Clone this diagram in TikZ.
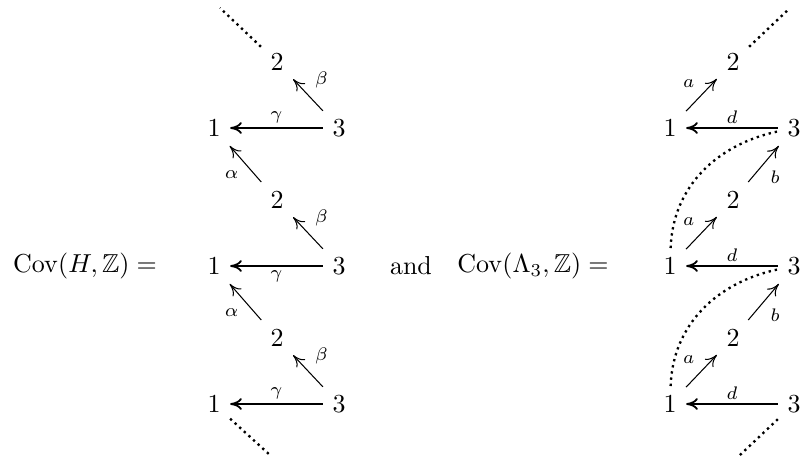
\documentclass[tikz,border=0pt]{standalone}
\usepackage{amsmath, amssymb}
\usetikzlibrary{arrows.meta}

\begin{document}
\begin{tikzpicture}[
  x=0.385pt, y=0.385pt,
  vtx/.style={inner sep=3.5pt},
  lbl/.style={font=\scriptsize, inner sep=1.5pt},
  dlbl/.style={font=\scriptsize, inner sep=2.5pt},
  harrow/.style={-{Computer Modern Rightarrow[length=4.5pt,width=4.5pt]}, line width=0.7pt},
  darrow/.style={-{Computer Modern Rightarrow[length=4.5pt,width=4.5pt]}, line width=0.4pt},
  dotline/.style={line width=0.9pt, dash pattern=on 0.9pt off 1.5pt}
]
  \useasboundingbox (0,0) rectangle (803,459);

  % texts
  \node (covh) at (85, 193) {$\mathrm{Cov}(H,\mathbb{Z}) =$};
  \node (and) at (411, 193) {and};
  \node (covl) at (533, 193) {$\mathrm{Cov}(\Lambda_3,\mathbb{Z}) =$};

  % left: H
  \node[vtx] (l2a) at (277, 397) {$2$};
  \node[vtx] (l1a) at (214, 331) {$1$};
  \node[vtx] (l3a) at (339, 331) {$3$};
  \node[vtx] (l2b) at (277, 259) {$2$};
  \node[vtx] (l1b) at (214, 193) {$1$};
  \node[vtx] (l3b) at (339, 193) {$3$};
  \node[vtx] (l2c) at (277, 121) {$2$};
  \node[vtx] (l1c) at (214, 55) {$1$};
  \node[vtx] (l3c) at (339, 55) {$3$};
  \coordinate (ltop) at (220, 451);
  \coordinate (lbot) at (271, 3);

  \draw[harrow] (l3a) -- node[midway, above, lbl] {$\gamma$} (l1a);
  \draw[harrow] (l3b) -- node[midway, below, lbl] {$\gamma$} (l1b);
  \draw[harrow] (l3c) -- node[midway, above, lbl] {$\gamma$} (l1c);
  \draw[darrow] (l3a) -- node[midway, above right, dlbl] {$\beta$} (l2a);
  \draw[darrow] (l3b) -- node[midway, above right, dlbl] {$\beta$} (l2b);
  \draw[darrow] (l3c) -- node[midway, above right, dlbl] {$\beta$} (l2c);
  \draw[darrow] (l2b) -- node[midway, below left, dlbl] {$\alpha$} (l1a);
  \draw[darrow] (l2c) -- node[midway, below left, dlbl] {$\alpha$} (l1b);
  \draw[dotline] (l2a) -- (ltop);
  \draw[dotline] (l1c) -- (lbot);

  % right: Lambda_3
  \node[vtx] (r2a) at (733, 397) {$2$};
  \node[vtx] (r1a) at (670, 331) {$1$};
  \node[vtx] (r3a) at (794, 331) {$3$};
  \node[vtx] (r2b) at (733, 259) {$2$};
  \node[vtx] (r1b) at (670, 193) {$1$};
  \node[vtx] (r3b) at (794, 193) {$3$};
  \node[vtx] (r2c) at (733, 121) {$2$};
  \node[vtx] (r1c) at (670, 55) {$1$};
  \node[vtx] (r3c) at (794, 55) {$3$};
  \coordinate (rtop) at (789, 450);
  \coordinate (rbot) at (739, 3);

  \draw[harrow] (r3a) -- node[midway, above, lbl] {$d$} (r1a);
  \draw[harrow] (r3b) -- node[midway, above, lbl] {$d$} (r1b);
  \draw[harrow] (r3c) -- node[midway, above, lbl] {$d$} (r1c);
  \draw[darrow] (r1a) -- node[midway, above left, dlbl] {$a$} (r2a);
  \draw[darrow] (r1b) -- node[midway, above left, dlbl] {$a$} (r2b);
  \draw[darrow] (r1c) -- node[midway, above left, dlbl] {$a$} (r2c);
  \draw[darrow] (r2b) -- node[midway, below right, dlbl] {$b$} (r3a);
  \draw[darrow] (r2c) -- node[midway, below right, dlbl] {$b$} (r3b);
  \draw[dotline] (r1b) to[out=88, in=192] (r3a);
  \draw[dotline] (r1c) to[out=88, in=192] (r3b);
  \draw[dotline] (r2a) -- (rtop);
  \draw[dotline] (r3c) -- (rbot);
\end{tikzpicture}
\end{document}
